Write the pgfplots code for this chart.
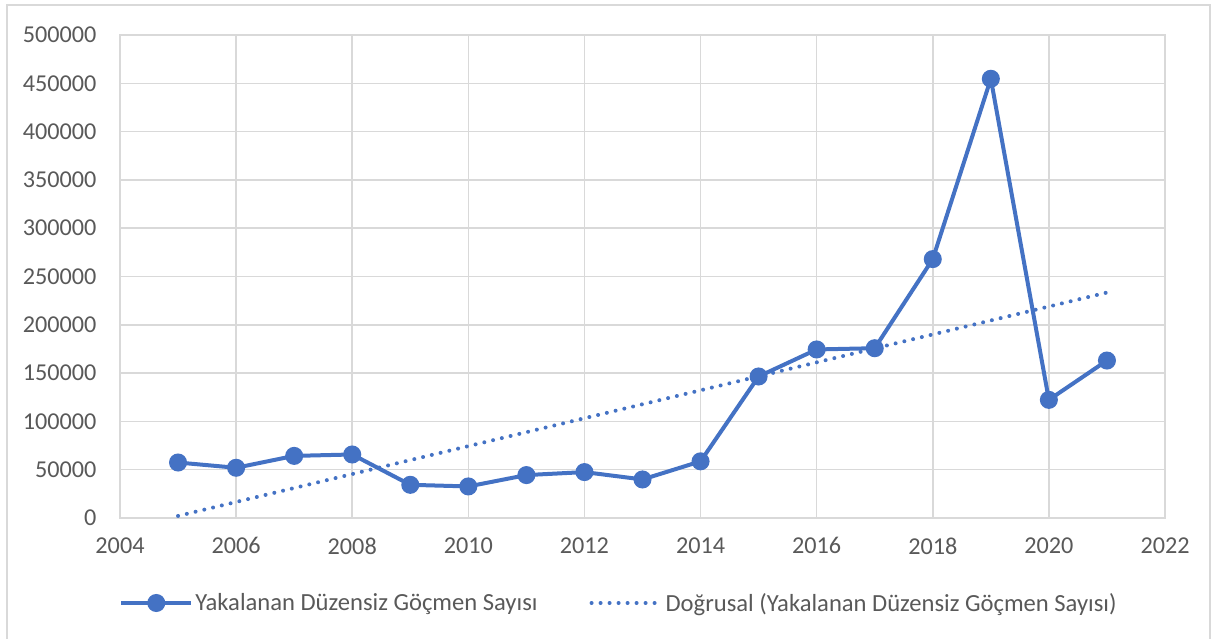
\documentclass[border=0pt]{standalone}
\usepackage{pgfplots}
\pgfplotsset{compat=1.18}
\usepackage{fontspec}
\setmainfont{Carlito}
\definecolor{ser}{HTML}{4472C4}
\definecolor{grd}{HTML}{D9D9D9}
\definecolor{txt}{HTML}{595959}
\begin{document}
\begin{tikzpicture}[x=1bp,y=1bp]
\path[use as bounding box] (0,0) rectangle (1217,639);
\draw[grd,line width=1.5bp] (7,-5) -- (7,634) -- (1210,634) -- (1210,-5);
\begin{axis}[
  at={(120bp,121bp)}, anchor=south west,
  scale only axis, width=1045bp, height=483bp,
  xmin=2004, xmax=2022, ymin=0, ymax=500000,
  xtick={2004,2006,...,2022},
  ytick={0,50000,...,500000},
  scaled ticks=false,
  xticklabel={\pgfmathprintnumber[assume math mode=true,1000 sep={},fixed,precision=0]{\tick}},
  yticklabel={\pgfmathprintnumber[assume math mode=true,1000 sep={},fixed,precision=0]{\tick}},
  grid=major,
  major grid style={grd,line width=1.5bp},
  axis line style={grd,line width=1.5bp},
  tick style={draw=none},
  every tick label/.append style={font=\fontsize{24.3}{28}\selectfont, text=txt},
  yticklabel style={xshift=-20bp},
  xticklabel style={yshift=-16bp},
  legend style={at={(0.4775,-0.176)}, anchor=center, draw=none, fill=none,
    font=\fontsize{24.7}{28}\selectfont, text=txt, legend columns=2,
    /tikz/every even column/.append style={column sep=50bp}},
  legend image code/.code={\draw[mark repeat=2,mark phase=2,#1] plot coordinates {(0bp,0bp)(35bp,0bp)(70bp,0bp)};},
]
\addplot[ser, line width=4bp, mark=*, mark size=7bp, mark options={solid,fill=ser,draw=ser}]
  coordinates {(2005,57428)(2006,51983)(2007,64290)(2008,65737)(2009,34345)(2010,32667)
  (2011,44415)(2012,47510)(2013,39890)(2014,58647)(2015,146485)(2016,174466)
  (2017,175752)(2018,268003)(2019,454662)(2020,122302)(2021,162996)};
\addlegendentry{Yakalanan Düzensiz Göçmen Sayısı}
\addplot[ser, line width=4bp, dash pattern=on 0bp off 9bp, line cap=round]
  coordinates {(2005,2119)(2021,233361)};
\addlegendentry{Doğrusal (Yakalanan Düzensiz Göçmen Sayısı)}
\end{axis}
\end{tikzpicture}
\end{document}
